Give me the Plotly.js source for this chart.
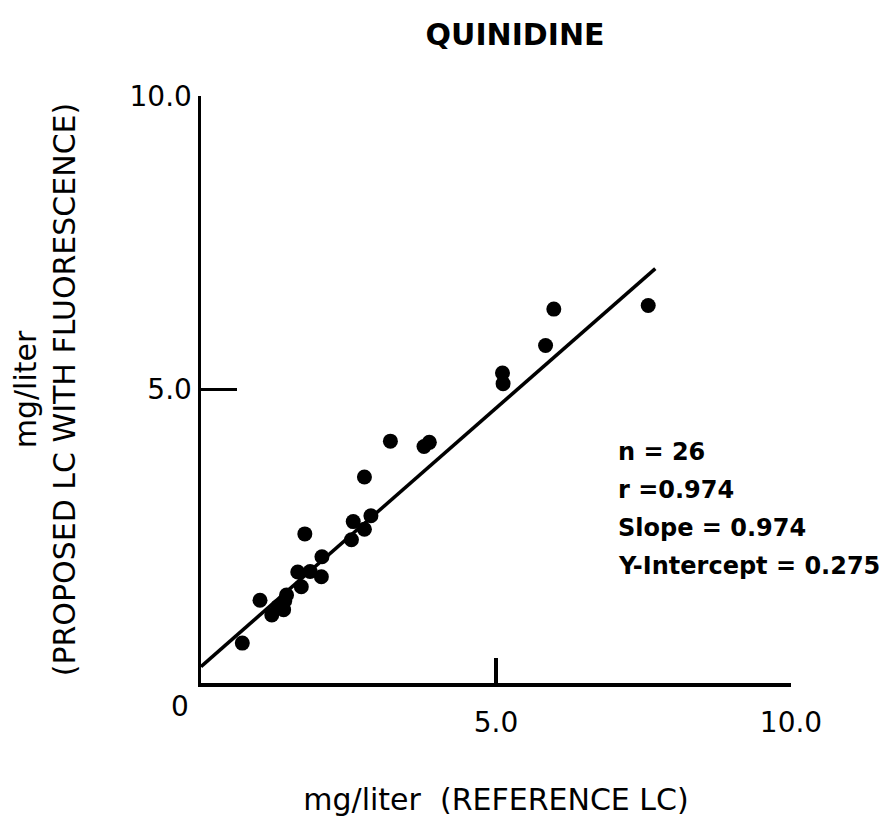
<!DOCTYPE html>
<html>
<head>
<meta charset="utf-8">
<script src="https://cdn.plot.ly/plotly-3.0.1.min.js"></script>
<style>html,body{margin:0;padding:0;background:#fff;}#chart{width:893px;height:830px;}</style>
</head>
<body>
<div id="chart"></div>
<script>
// Data (mg/liter)
const refLC = [0.70, 1.00, 1.20, 1.30, 1.40, 1.42, 1.45, 1.64, 1.70, 1.85, 2.04, 1.76, 2.05, 2.55, 2.58, 2.77, 2.88, 2.77, 3.21, 3.78, 3.87, 5.11, 5.12, 5.84, 5.98, 7.58];
const proposedLC = [0.68, 1.41, 1.16, 1.30, 1.25, 1.40, 1.50, 1.89, 1.64, 1.90, 1.81, 2.54, 2.15, 2.44, 2.75, 2.62, 2.85, 3.51, 4.12, 4.03, 4.10, 5.28, 5.10, 5.75, 6.37, 6.43];
// Regression line endpoints as drawn
const fitX = [0, 7.70];
const fitY = [0.28, 7.06];
const xTicks = [5, 10];
const xTickText = ['5.0', '10.0'];
const yTicks = [5, 10];
const yTickText = ['5.0', '10.0'];
const statLines = ['n = 26', 'r =0.974', 'Slope = 0.974', 'Y-Intercept = 0.275'];

const FONT = 'DejaVu Sans, sans-serif';

const traces = [
  {x: fitX, y: fitY, mode: 'lines', type: 'scatter', line: {color: '#000', width: 3.5}, hoverinfo: 'skip'},
  {x: refLC, y: proposedLC, mode: 'markers', type: 'scatter', marker: {color: '#000', size: 15}}
];

const annotations = statLines.map((t, i) => ({
  text: '<b>' + t + '</b>', xref: 'paper', yref: 'paper',
  x: (616 - 201) / 590, y: (683 - (452 + 38 * i)) / 587,
  xanchor: 'left', yanchor: 'middle', showarrow: false,
  font: {family: FONT, size: 24, color: '#000'}
}));
annotations.push({text: '0', xref: 'paper', yref: 'paper', x: (180 - 201) / 590, y: (683 - 706) / 587,
  xanchor: 'center', yanchor: 'middle', showarrow: false, font: {family: FONT, size: 28, color: '#000'}});

const layout = {
  width: 893, height: 830,
  margin: {l: 201, r: 102, t: 96, b: 147},
  paper_bgcolor: '#fff', plot_bgcolor: '#fff',
  showlegend: false,
  font: {family: FONT, color: '#000'},
  title: {text: '<b>QUINIDINE</b>', x: (515 - 201) / 590, xanchor: 'center', xref: 'paper',
          yref: 'container', y: 1 - 34 / 830, yanchor: 'middle', font: {family: FONT, size: 30, color: '#000'}},
  xaxis: {range: [0, 10], showgrid: false, zeroline: false, showline: true, linecolor: '#000', linewidth: 3.5,
          ticks: 'inside', ticklen: 25, tickwidth: 3.5, tickcolor: '#000', tickvals: xTicks, ticktext: xTickText,
          tickfont: {family: FONT, size: 28, color: '#000'}, ticklabelstandoff: 12,
          title: {text: 'mg/liter  (REFERENCE LC)', font: {family: FONT, size: 30, color: '#000'}, standoff: 52}},
  yaxis: {range: [0, 10], showgrid: false, zeroline: false, showline: true, linecolor: '#000', linewidth: 3.5,
          ticks: 'inside', ticklen: 36, tickwidth: 3.5, tickcolor: '#000', tickvals: yTicks, ticktext: yTickText,
          tickfont: {family: FONT, size: 28, color: '#000'},
          title: {text: 'mg/liter<br>(PROPOSED LC WITH FLUORESCENCE)', font: {family: FONT, size: 30, color: '#000'}, standoff: 46}},
  annotations: annotations
};

Plotly.newPlot('chart', traces, layout, {displayModeBar: false, staticPlot: true});
</script>
</body>
</html>
